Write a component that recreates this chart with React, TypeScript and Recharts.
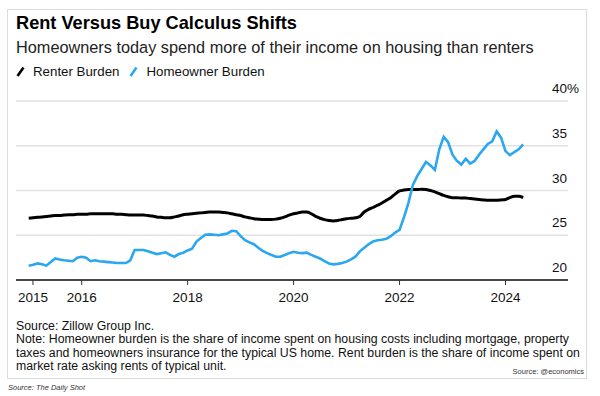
import React from 'react';
import { LineChart, XAxis, YAxis, CartesianGrid, Line } from 'recharts';

// monthly readings, Jan 2015 .. May 2024
const renterBurden = [
  26.9, 26.95, 27.0, 27.05, 27.1, 27.15, 27.2, 27.2, 27.25, 27.3, 27.3, 27.35,
  27.35, 27.35, 27.4, 27.4, 27.4, 27.4, 27.4, 27.4, 27.35, 27.35, 27.3, 27.25,
  27.25, 27.25, 27.25, 27.2, 27.15, 27.05, 27.0, 26.95, 26.95, 27.05, 27.15, 27.3,
  27.35, 27.4, 27.45, 27.5, 27.55, 27.6, 27.6, 27.6, 27.55, 27.5, 27.4, 27.3,
  27.2, 27.05, 26.95, 26.85, 26.8, 26.75, 26.75, 26.75, 26.8, 26.9, 27.05, 27.25,
  27.4, 27.5, 27.6, 27.6, 27.4, 27.1, 26.9, 26.75, 26.65, 26.6, 26.65, 26.75,
  26.85, 26.9, 26.95, 27.1, 27.6, 27.9, 28.1, 28.35, 28.6, 28.9, 29.2, 29.6,
  29.95, 30.05, 30.1, 30.1, 30.1, 30.15, 30.1, 30.0, 29.85, 29.65, 29.45, 29.3,
  29.2, 29.2, 29.15, 29.15, 29.1, 29.05, 29.0, 28.95, 28.9, 28.9, 28.9, 28.95,
  29.0, 29.2, 29.35, 29.35, 29.2,
];

const homeownerBurden = [
  21.6, 21.7, 21.85, 21.75, 21.6, 22.0, 22.4, 22.3, 22.2, 22.15, 22.1, 22.5,
  22.6, 22.5, 22.1, 22.2, 22.1, 22.05, 22.0, 21.95, 21.9, 21.9, 21.9, 22.2,
  23.35, 23.35, 23.35, 23.2, 23.05, 22.9, 23.0, 23.1, 22.8, 22.6, 22.9, 23.05,
  23.3, 23.5, 24.3, 24.7, 25.05, 25.1, 25.05, 25.0, 25.1, 25.2, 25.5, 25.45,
  24.9, 24.45, 24.2, 24.0, 23.6, 23.25, 23.0, 22.8, 22.6, 22.6, 22.8, 23.0,
  23.15, 23.05, 23.0, 23.05, 22.8, 22.6, 22.4, 22.1, 21.85, 21.75, 21.8, 21.9,
  22.05, 22.3, 22.6, 23.2, 23.6, 24.0, 24.3, 24.45, 24.5, 24.6, 24.9, 25.3,
  25.6, 27.0, 28.6, 30.6, 31.6, 32.4, 33.2, 32.8, 32.3, 34.6, 36.0, 35.4,
  34.0, 33.3, 32.9, 33.55, 33.0, 33.3, 34.0, 34.6, 35.2, 35.5, 36.6, 35.9,
  34.4, 33.95, 34.3, 34.6, 35.15,
];

const startYear = 2015;
const xTicks = [2015.08, 2016, 2018, 2020, 2022, 2024];
const yTicks = [20, 25, 30, 35, 40];

const noteLines = [
  'Source: Zillow Group Inc.',
  'Note: Homeowner burden is the share of income spent on housing costs including mortgage, property',
  'taxes and homeowners insurance for the typical US home. Rent burden is the share of income spent on',
  'market rate asking rents of typical unit.',
];

const data = renterBurden.map((r, i) => ({
  t: startYear + i / 12,
  renter: r,
  homeowner: homeownerBurden[i],
}));

const FONT = '"Liberation Sans", Arial, Helvetica, sans-serif';

const YTick = (props: any) => {
  const { x, y, payload } = props;
  const label = payload.value === 40 ? '40%' : String(payload.value);
  return (
    <text x={x - 16} y={y - 8} textAnchor="start" fontSize={13.5} fill="#111" fontFamily={FONT}>
      {label}
    </text>
  );
};

const Slash = ({ color }: { color: string }) => (
  <svg width={9} height={11} style={{ marginRight: 8, verticalAlign: '-1px' }}>
    <line x1={1.5} y1={10} x2={7.5} y2={1.5} stroke={color} strokeWidth={2.6} />
  </svg>
);

const App = () => {
  return (
    <div style={{ position: 'absolute', left: 0, top: 0, width: 600, height: 396, background: '#fff', fontFamily: FONT, color: '#000' }}>
      <div style={{ position: 'absolute', left: 7, top: 9, width: 580, height: 370, border: '1.5px solid #dcdcdc', boxSizing: 'border-box' }} />
      <div style={{ position: 'absolute', left: 16, top: 13, fontSize: 18.2, fontWeight: 700, whiteSpace: 'nowrap' }}>
        Rent Versus Buy Calculus Shifts
      </div>
      <div style={{ position: 'absolute', left: 16, top: 38, fontSize: 16.3, color: '#222', whiteSpace: 'nowrap' }}>
        Homeowners today spend more of their income on housing than renters
      </div>
      <div style={{ position: 'absolute', left: 16, top: 64, fontSize: 13.3, color: '#111', whiteSpace: 'nowrap' }}>
        <Slash color="#000" />
        <span style={{ marginRight: 10 }}>Renter Burden</span>
        <Slash color="#2aa7f0" />
        <span>Homeowner Burden</span>
      </div>

      <LineChart
        width={600}
        height={396}
        data={data}
        style={{ position: 'absolute', left: 0, top: 0 }}
        margin={{ top: 101, right: 0, bottom: 86, left: 16 }}
      >
        <CartesianGrid vertical={false} stroke="#e2e2e2" strokeWidth={1.5} />
        <XAxis
          type="number"
          dataKey="t"
          domain={[2014.76, 2025.18]}
          ticks={xTicks}
          tickFormatter={(v: number) => String(Math.floor(v))}
          axisLine={{ stroke: '#111', strokeWidth: 1.5 }}
          tickLine={{ stroke: '#333', strokeWidth: 1 }}
          tickSize={5}
          tickMargin={7}
          height={30}
          tick={{ fontSize: 13.5, fill: '#111', fontFamily: FONT }}
          interval={0}
        />
        <YAxis
          orientation="right"
          domain={[20, 40]}
          ticks={yTicks}
          axisLine={false}
          tickLine={false}
          tickSize={0}
          tickMargin={0}
          width={32}
          tick={<YTick />}
        />
        <Line type="monotone" dataKey="renter" stroke="#000" strokeWidth={3} dot={false} isAnimationActive={false} />
        <Line type="linear" dataKey="homeowner" stroke="#2aa7f0" strokeWidth={2.6} dot={false} isAnimationActive={false} />
      </LineChart>

      <div style={{ position: 'absolute', left: 16, top: 320, fontSize: 12.3, lineHeight: '13.4px', color: '#111' }}>
        {noteLines.map((l) => (
          <div key={l} style={{ whiteSpace: 'nowrap', width: 'fit-content' }}>{l}</div>
        ))}
      </div>
      <div style={{ position: 'absolute', right: 16, top: 367, fontSize: 7.5, color: '#333' }}>Source: @economics</div>
      <div style={{ position: 'absolute', left: 8, top: 383, fontSize: 7.5, fontStyle: 'italic', color: '#333' }}>
        Source: The Daily Shot
      </div>
    </div>
  );
};

export default App;
